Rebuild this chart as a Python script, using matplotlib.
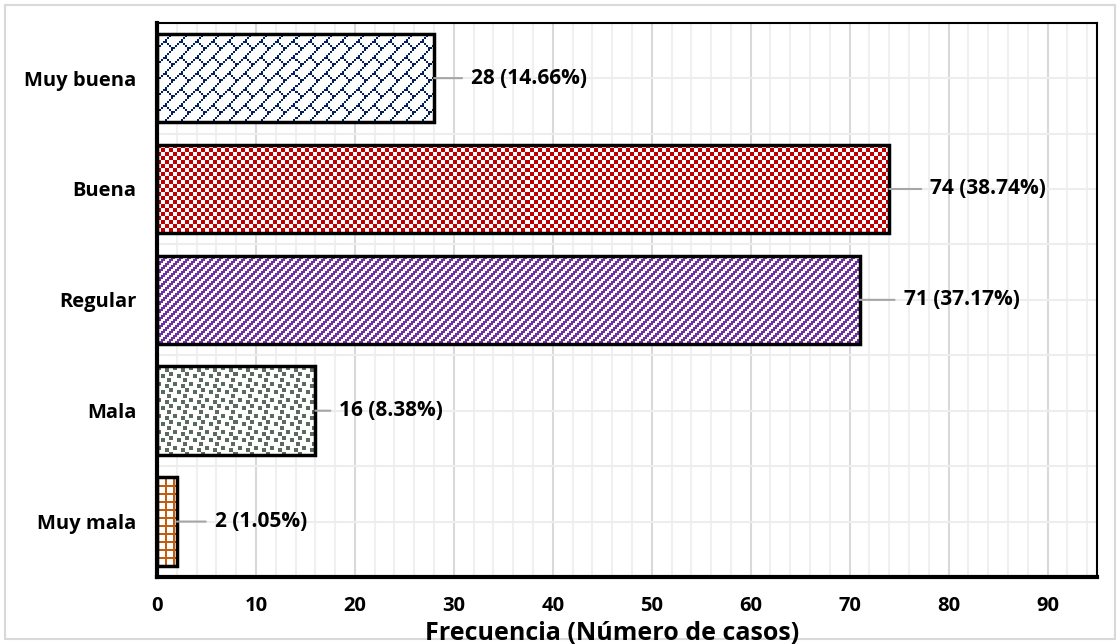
import numpy as np
import matplotlib
matplotlib.use('Agg')
from matplotlib import pyplot as plt
from matplotlib.colors import to_rgb
from matplotlib.patches import Rectangle

# datos (de abajo hacia arriba)
categorias = ['Muy mala', 'Mala', 'Regular', 'Buena', 'Muy buena']
casos = [2, 16, 71, 74, 28]
porcentajes = [1.05, 8.38, 37.17, 38.74, 14.66]

colores = ['#C55A11', '#5B6B5D', '#7030A0', '#C00000', '#002060']
patrones = ['grid', 'confetti', 'diag', 'checker', 'brick']
label_dx = [38, 24, 44, 41, 37]   # separacion etiqueta (px)

plt.rcParams['font.family'] = ['Open Sans', 'DejaVu Sans']
plt.rcParams['font.weight'] = 'bold'
FS = 14.5


def tile(nombre):
    r, c = np.mgrid[0:8, 0:8]
    if nombre == 'checker':
        return (r // 4 + c // 4) % 2 == 0
    if nombre == 'diag':
        return ((r // 2 + c // 2) % 4) < 2
    if nombre == 'grid':
        return (r < 2) | (c < 2)
    if nombre == 'brick':
        filas = [0x01, 0x02, 0x04, 0x08, 0x18, 0x24, 0x42, 0x81]
        t = np.array([[(b >> (7 - i)) & 1 for i in range(8)] for b in filas], bool)
        return np.kron(t, np.ones((2, 2), int)).astype(bool)
    if nombre == 'confetti':
        t = np.zeros((8, 8), bool)
        for (a, b) in [(0, 0), (1, 4), (4, 2), (3, 6), (6, 5)]:
            t[np.ix_([(a + i) % 8 for i in range(2)], [(b + j) % 8 for j in range(2)])] = True
        return np.kron(t, np.ones((2, 2), int)).astype(bool)


def textura(nombre, color, h, w):
    t = tile(nombre)
    m = np.tile(t, (h // t.shape[0] + 1, w // t.shape[1] + 1))[:h, :w]
    img = np.ones((h, w, 3))
    img[m] = to_rgb(color)
    return img


fig = plt.figure(figsize=(11.2, 6.44), dpi=100)
ax = fig.add_axes([157 / 1120, 1 - 577 / 644, 940 / 1120, (577 - 22.7) / 644])

y = np.arange(len(categorias))
alto = 0.8
bars = ax.barh(y, casos, height=alto, facecolor='none', edgecolor='black',
               linewidth=2.5, zorder=3)

ax.set_xlim(0, 95)
ax.set_ylim(-0.5, len(categorias) - 0.5)

# rellenos con trama
for i, b in enumerate(bars):
    x0, y0 = ax.transData.transform((0, y[i] - alto / 2))
    x1, y1 = ax.transData.transform((casos[i], y[i] + alto / 2))
    w, h = int(round(x1 - x0)), int(round(y1 - y0))
    img = textura(patrones[i], colores[i], h, w)
    im = ax.imshow(img, extent=(0, casos[i], y[i] - alto / 2, y[i] + alto / 2),
                   aspect='auto', interpolation='nearest', zorder=2)
    im.set_clip_path(b)

ax.set_xlim(0, 95)
ax.set_ylim(-0.5, len(categorias) - 0.5)

ax.set_xticks(np.arange(0, 91, 10))
ax.set_xticks(np.arange(0, 95, 2), minor=True)
ax.set_yticks(y)
ax.set_yticks(np.arange(-0.5, len(categorias), 1), minor=True)
ax.set_yticklabels(categorias, fontsize=FS, fontweight='bold')
ax.set_xticklabels([str(v) for v in range(0, 91, 10)], fontsize=FS, fontweight='bold')
ax.tick_params(which='both', length=0)
ax.tick_params(axis='x', pad=14)
ax.tick_params(axis='y', pad=15)

ax.set_axisbelow(True)
ax.grid(which='minor', axis='x', color='#F0F0F0', lw=1.5, zorder=0)
ax.grid(which='major', axis='x', color='#D9D9D9', lw=1.5, zorder=0)
ax.grid(which='both', axis='y', color='#EDEDED', lw=1.5, zorder=0)

for s in ['left', 'bottom']:
    ax.spines[s].set_linewidth(3)
for s in ['top', 'right']:
    ax.spines[s].set_linewidth(1.5)
for s in ax.spines.values():
    s.set_color('black')
    s.set_zorder(4)

# etiquetas con linea guia
for i in range(len(casos)):
    dx = label_dx[i]
    ax.annotate('', xy=(casos[i], y[i]), xytext=((dx - 9) * 0.72, 0),
                textcoords='offset points',
                arrowprops=dict(arrowstyle='-', color='#A6A6A6', lw=1.5,
                                shrinkA=0, shrinkB=0), zorder=3)
    ax.annotate(f'{casos[i]} ({porcentajes[i]:.2f}%)', xy=(casos[i], y[i]),
                xytext=(dx * 0.72, 0), textcoords='offset points',
                ha='left', va='center', fontsize=15, fontweight='bold', zorder=5)

fig.text(612 / 1120, 1 - 640 / 644, 'Frecuencia (Número de casos)',
         ha='center', va='baseline', fontsize=18, fontweight='bold')

fig.patches.append(Rectangle((5 / 1120, 5 / 644), 1110 / 1120, 634 / 644,
                             transform=fig.transFigure, fill=False,
                             edgecolor='#D9D9D9', lw=1.5))

fig.savefig('out.png', dpi=100)
